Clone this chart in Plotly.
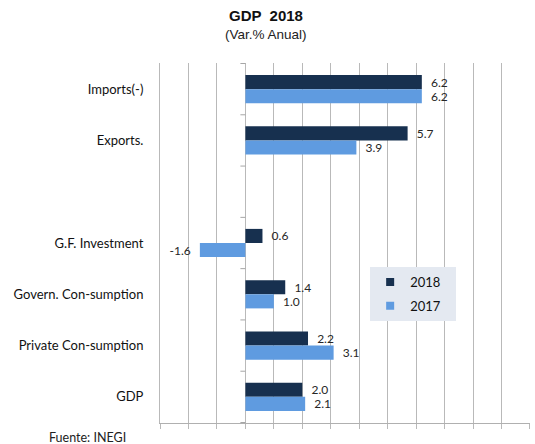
import plotly.graph_objects as go

# Annual % change by GDP component (top to bottom); blank row separates the trade block
categories = ["Imports(-)", "Exports.", " ", "G.F. Investment",
              "Govern. Con-sumption", "Private Con-sumption", "GDP"]
values_2018 = [6.2, 5.7, None, 0.6, 1.4, 2.2, 2.0]
values_2017 = [6.2, 3.9, None, -1.6, 1.0, 3.1, 2.1]
series_names = ["2018", "2017"]

DARK = "#17304f"
LIGHT = "#5f9be0"
GRID = "#b9b9b9"
FONT = "Lato, Open Sans, sans-serif"


def labels(vals):
    out = []
    for v in vals:
        if v is None:
            out.append("")
        elif v >= 0:
            out.append(f"  {v:.1f}")
        else:
            out.append(f"{v:.1f}  ")
    return out


fig = go.Figure()
for name, vals, color in [(series_names[0], values_2018, DARK),
                          (series_names[1], values_2017, LIGHT)]:
    fig.add_trace(go.Bar(
        y=categories, x=vals, orientation="h", name=name,
        marker=dict(color=color, line=dict(width=0)),
        text=labels(vals), textposition="outside", constraintext="none",
        cliponaxis=False,
        textfont=dict(family=FONT, size=12, color="#262626"),
        showlegend=False,
    ))
    # small square legend key
    fig.add_trace(go.Scatter(
        x=[None], y=[None], mode="markers", name=name + "   ",
        marker=dict(symbol="square", size=8, color=color),
        legendgroup=name,
    ))

# tick marks on the category axis, drawn along the zero line
shapes = []
for i in range(len(categories) + 1):
    shapes.append(dict(
        type="line", xref="x", yref="y", xsizemode="pixel", xanchor=0,
        x0=-5, x1=0, y0=i - 0.5, y1=i - 0.5,
        line=dict(color="#a6a6a6", width=1),
    ))

fig.update_layout(
    width=535, height=444,
    margin=dict(l=160, r=5, t=63, b=21),
    paper_bgcolor="white", plot_bgcolor="white",
    barmode="group", bargap=0.45, bargroupgap=0,
    font=dict(family=FONT, size=12, color="#222222"),
    xaxis=dict(
        range=[-3.001, 10.001], dtick=1, tick0=0,
        showgrid=True, gridcolor=GRID, gridwidth=1,
        zeroline=False, showticklabels=False,
        ticks="outside", ticklen=5, tickcolor=GRID,
        showline=True, linecolor="#b0b0b0", linewidth=1,
        fixedrange=True,
    ),
    yaxis=dict(
        autorange="reversed", type="category",
        showgrid=False, zeroline=False, ticks="",
        showline=True, linecolor=GRID, linewidth=1,
        ticklabelstandoff=13,
        tickfont=dict(family=FONT, size=13, color="#111111"),
    ),
    legend=dict(
        x=0.568, y=0.4333, xanchor="left", yanchor="top",
        bgcolor="#e4e9f1", borderwidth=0,
        font=dict(family=FONT, size=13, color="#111111"),
        tracegroupgap=4, itemwidth=30,
    ),
    shapes=shapes,
    annotations=[
        dict(text="<b>GDP  2018</b>", xref="paper", yref="paper",
             x=0.2865, y=1.1306, showarrow=False, xanchor="center", yanchor="middle",
             font=dict(family="Liberation Sans, Arial", size=15, color="#111111")),
        dict(text="(Var.% Anual)", xref="paper", yref="paper",
             x=0.2865, y=1.0778, showarrow=False, xanchor="center", yanchor="middle",
             font=dict(family="Liberation Sans, Arial", size=13.5, color="#222222")),
        dict(text="Fuente: INEGI", xref="paper", yref="paper",
             x=-0.0865, y=-0.0389, showarrow=False, xanchor="right", yanchor="middle",
             font=dict(family=FONT, size=12.5, color="#222222")),
    ],
)

fig.write_html("out.html")
